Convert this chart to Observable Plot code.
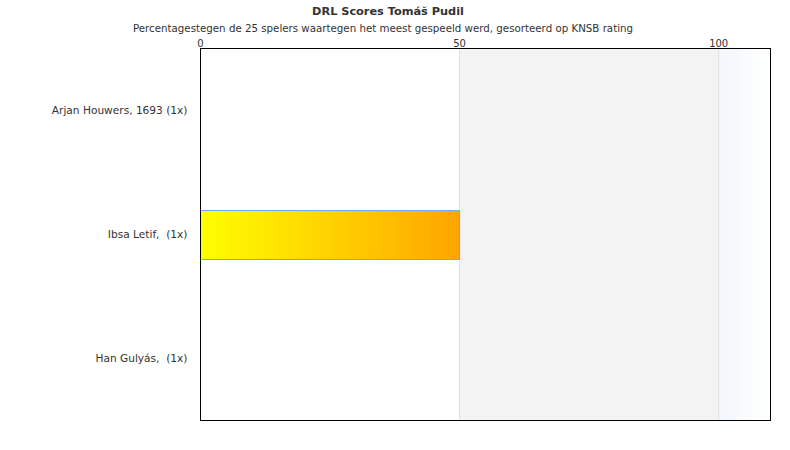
<!DOCTYPE html>
<html><head><meta charset="utf-8">
<script src="https://cdn.jsdelivr.net/npm/d3@7"></script>
<script src="https://cdn.jsdelivr.net/npm/@observablehq/plot@0.6"></script>
<style>
body{margin:0;background:#fff;font-family:"DejaVu Sans",sans-serif;}
#head{position:relative;width:790px;height:36px;}
#title{position:absolute;left:0;top:4px;width:776px;text-align:center;font-size:11.3px;font-weight:bold;color:#333;line-height:16px;}
#sub{position:absolute;left:0;top:21px;width:766px;text-align:center;font-size:10.25px;color:#333;line-height:14px;}
svg text{white-space:pre;}
</style></head>
<body>
<div id="head"><div id="title">DRL Scores Tomáš Pudil</div><div id="sub">Percentagestegen de 25 spelers waartegen het meest gespeeld werd, gesorteerd op KNSB rating</div></div>
<div id="chart"></div>
<script>
const players = ["Arjan Houwers, 1693 (1x)", "Ibsa Letif,  (1x)", "Han Gulyás,  (1x)"];
const scores = [0, 50, 0];
const bandStart = [50, 100];
const bandEnd = [100, 110];
const bandFill = ["#f3f3f3", "url(#bandGrad)"];
const xTicks = [0, 50, 100];

const data = players.map((p, i) => ({player: p, score: scores[i]}));
const bands = bandStart.map((s, i) => ({x1: s, x2: bandEnd[i], fill: bandFill[i]}));

const chart = Plot.plot({
  width: 790,
  height: 414,
  marginTop: 12,
  marginBottom: 30,
  marginLeft: 200,
  marginRight: 20,
  style: {fontFamily: "DejaVu Sans, sans-serif", fontSize: "10px", color: "#333", background: "#fff"},
  x: {domain: [0, 110], ticks: xTicks},
  y: {domain: players, padding: 0, label: null},
  marks: [
    Plot.rectX(bands, {x1: "x1", x2: "x2", fill: d => d.fill}),
    Plot.ruleX(bandStart, {stroke: "#e0e0e0"}),
    Plot.rectX(data.filter(d => d.score > 0), {x1: 0, x2: "score", y: "player", fill: "url(#barGrad)", stroke: "#6aaef0", strokeWidth: 1, insetTop: 38, insetBottom: 37, shapeRendering: "crispEdges"}),
    Plot.axisX({anchor: "top", ticks: xTicks, tickSize: 0, tickPadding: 2, label: null, fontSize: 10}),
    Plot.axisY({tickSize: 0, tickPadding: 13, label: null, fontSize: 10.6}),
    Plot.frame({stroke: "#000", strokeWidth: 1})
  ]
});
const svg = d3.select(chart);
const defs = svg.insert("defs", ":first-child");
const g1 = defs.append("linearGradient").attr("id", "barGrad").attr("x1", "0%").attr("x2", "100%").attr("y1", "0%").attr("y2", "0%");
g1.append("stop").attr("offset", "0%").attr("stop-color", "#ffff00");
g1.append("stop").attr("offset", "100%").attr("stop-color", "#ffa500");
const g2 = defs.append("linearGradient").attr("id", "bandGrad").attr("x1", "0%").attr("x2", "100%").attr("y1", "0%").attr("y2", "0%");
g2.append("stop").attr("offset", "0%").attr("stop-color", "#f3f7fb");
g2.append("stop").attr("offset", "100%").attr("stop-color", "#ffffff");
document.getElementById("chart").appendChild(chart);
</script>
</body></html>
